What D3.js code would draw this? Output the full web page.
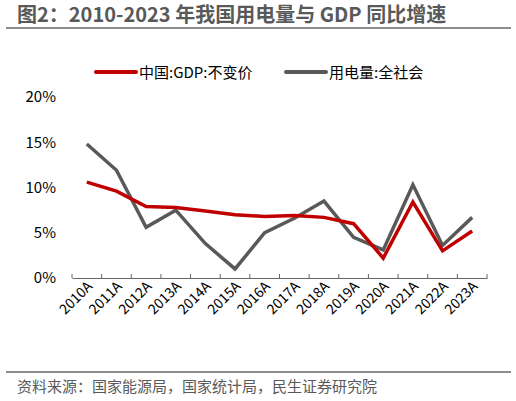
<!DOCTYPE html>
<html><head><meta charset="utf-8">
<script src="https://cdn.jsdelivr.net/npm/d3@7"></script>
<style>body{margin:0;background:#fff}text{font-family:"Noto Sans CJK SC","Noto Sans",sans-serif}</style>
</head><body><div id="okvir"></div>
<script>
const years = ["2010A","2011A","2012A","2013A","2014A","2015A","2016A","2017A","2018A","2019A","2020A","2021A","2022A","2023A"];
const gdp = [10.6,9.6,7.9,7.8,7.4,7.0,6.8,6.9,6.7,6.0,2.2,8.4,3.0,5.2];
const power = [14.8,11.9,5.6,7.5,3.8,1.0,5.0,6.6,8.5,4.5,3.1,10.3,3.6,6.7];
const yTicks = [0,5,10,15,20];

const W = 516, H = 401;
const m = {left:72, right:487, top:97, bottom:278};
const svg = d3.select("#okvir").append("svg").attr("width",W).attr("height",H);

svg.append("text").attr("x",17).attr("y",22).attr("fill","#595959")
  .style("font-size","20px").style("font-weight","bold")
  .text("图2：2010-2023 年我国用电量与 GDP 同比增速");
svg.append("line").attr("x1",6).attr("x2",511).attr("y1",28).attr("y2",28)
  .attr("stroke","#666").attr("stroke-width",1.5);
svg.append("line").attr("x1",6).attr("x2",511).attr("y1",372).attr("y2",372)
  .attr("stroke","#666").attr("stroke-width",1.5);
svg.append("text").attr("x",17).attr("y",392).attr("fill","#595959")
  .style("font-size","15px").text("资料来源：国家能源局，国家统计局，民生证券研究院");

const x = d3.scaleBand().domain(years).range([m.left,m.right]);
const y = d3.scaleLinear().domain([0,20]).range([m.bottom,m.top]);

const xa = svg.append("g").attr("transform",`translate(0,${m.bottom})`)
  .call(d3.axisBottom(x).tickSize(0).tickSizeOuter(0));
xa.select(".domain").attr("stroke","#666");
xa.selectAll("text").attr("fill","#000").style("font-size","14px")
  .attr("text-anchor","end").attr("dx","-2").attr("dy","8")
  .attr("transform","rotate(-45)");
svg.append("g").selectAll("line").data(d3.range(years.length+1)).join("line")
  .attr("x1",i=>m.left+i*x.step()).attr("x2",i=>m.left+i*x.step())
  .attr("y1",m.bottom).attr("y2",m.bottom-4).attr("stroke","#666");

const ya = svg.append("g").attr("transform",`translate(${m.left},0)`)
  .call(d3.axisLeft(y).tickValues(yTicks).tickFormat(d=>d+"%").tickSize(0).tickPadding(16));
ya.select(".domain").remove();
ya.selectAll("text").attr("fill","#000").style("font-size","15px");

const line = d3.line().x((d,i)=>x(years[i])+x.bandwidth()/2).y(d=>y(d));
svg.append("path").datum(power).attr("d",line).attr("fill","none")
  .attr("stroke","#595959").attr("stroke-width",3.5);
svg.append("path").datum(gdp).attr("d",line).attr("fill","none")
  .attr("stroke","#c00000").attr("stroke-width",3.5);

const leg = [{n:"中国:GDP:不变价",c:"#c00000",x:96},{n:"用电量:全社会",c:"#595959",x:286}];
leg.forEach(l=>{
  svg.append("line").attr("x1",l.x).attr("x2",l.x+40).attr("y1",72).attr("y2",72)
    .attr("stroke",l.c).attr("stroke-width",4).attr("stroke-linecap","round");
  svg.append("text").attr("x",l.x+43).attr("y",78).style("font-size","15px").text(l.n);
});
</script></body></html>
